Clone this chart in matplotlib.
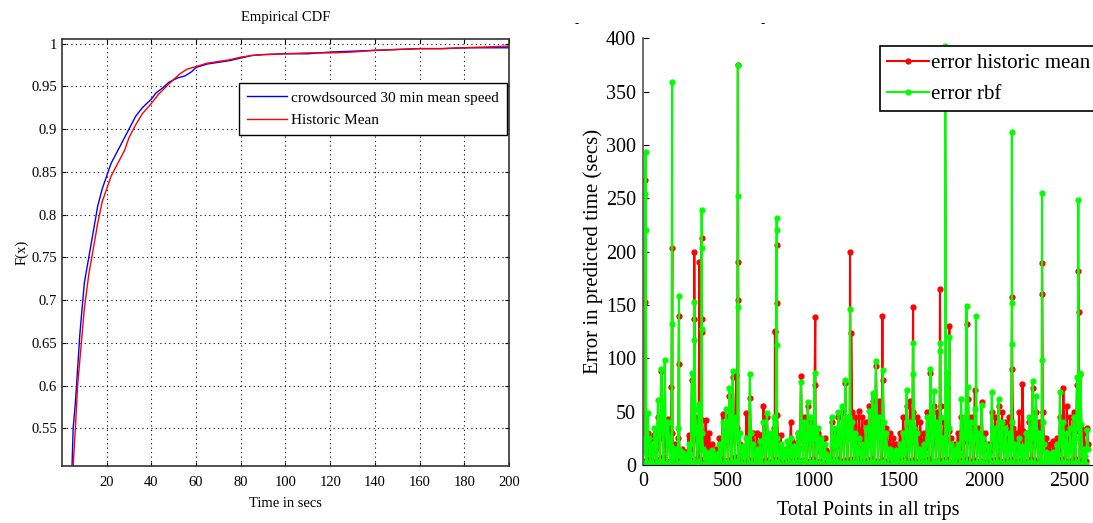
import numpy as np
import matplotlib
matplotlib.use("Agg")
import matplotlib.pyplot as plt

plt.rcParams["font.family"] = ["Liberation Serif", "DejaVu Serif"]

# ---- left panel: empirical CDF of travel-time error (secs)
crowd_t = [4.5, 5, 6, 7, 8, 9, 10, 12, 14, 16, 18, 20, 22, 25, 28, 30, 33, 36,
           40, 42, 45, 48, 52, 55, 58, 60, 65, 70, 75, 80, 85, 90, 100, 110,
           120, 130, 140, 150, 160, 170, 180, 190, 200]
crowd_f = [0.506, 0.55, 0.58, 0.62, 0.66, 0.69, 0.72, 0.75, 0.78, 0.81, 0.83,
           0.845, 0.86, 0.875, 0.89, 0.90, 0.915, 0.925, 0.935, 0.942, 0.948,
           0.955, 0.96, 0.962, 0.967, 0.972, 0.976, 0.978, 0.98, 0.983, 0.986,
           0.987, 0.988, 0.988, 0.99, 0.991, 0.992, 0.993, 0.994, 0.994, 0.995,
           0.995, 0.995]
hist_t = [5, 6, 7, 8, 9, 10, 11, 12, 14, 16, 18, 20, 22, 25, 28, 30, 33, 36,
          40, 43, 46, 50, 53, 56, 60, 65, 70, 75, 80, 85, 90, 100, 110, 120,
          130, 140, 150, 160, 170, 180, 190, 200]
hist_f = [0.506, 0.55, 0.6, 0.63, 0.66, 0.69, 0.71, 0.73, 0.76, 0.79, 0.815,
          0.83, 0.845, 0.86, 0.875, 0.89, 0.905, 0.918, 0.93, 0.94, 0.948,
          0.958, 0.965, 0.97, 0.973, 0.977, 0.979, 0.981, 0.984, 0.986, 0.987,
          0.988, 0.989, 0.989, 0.99, 0.992, 0.993, 0.994, 0.994, 0.995, 0.996,
          0.997]

# ---- right panel: per-point error, read per 20-point bin
# (bin max, a typical second level, bin min)
rbf_hi = [25, 49, 20, 35, 61, 90, 98, 40, 18, 15,
          35, 12, 10, 20, 86, 52, 57, 30, 12, 10,
          14, 10, 20, 40, 52, 72, 88, 45, 30, 18,
          25, 85, 20, 15, 22, 40, 49, 30, 45, 25,
          20, 15, 22, 25, 18, 30, 78, 40, 59, 45,
          86, 35, 25, 20, 8, 45, 35, 50, 55, 80,
          45, 40, 30, 25, 20, 35, 51, 67, 97, 45,
          89, 30, 15, 12, 14, 20, 30, 70, 40, 85,
          30, 15, 20, 45, 90, 69, 40, 45, 25, 86,
          20, 15, 20, 62, 45, 73, 40, 52, 30, 56,
          20, 18, 68, 35, 62, 40, 35, 30, 40, 20,
          25, 18, 30, 45, 79, 65, 30, 40, 12, 10,
          12, 20, 68, 40, 30, 35, 45, 82, 86, 15,
          33]
rbf_mid = [12, 25, 10, 18, 35, 45, 40, 25, 10, 8,
           15, 7, 6, 10, 40, 30, 28, 15, 7, 6,
           8, 6, 12, 25, 30, 35, 40, 25, 15, 10,
           12, 30, 10, 8, 12, 22, 25, 15, 22, 12,
           10, 8, 12, 12, 10, 15, 35, 25, 30, 25,
           35, 20, 12, 10, 5, 25, 20, 28, 30, 35,
           25, 22, 15, 12, 10, 18, 25, 30, 40, 25,
           40, 15, 8, 7, 8, 10, 15, 30, 22, 35,
           15, 8, 10, 25, 40, 35, 22, 25, 12, 35,
           10, 8, 10, 30, 25, 35, 22, 25, 15, 25,
           10, 9, 30, 18, 30, 22, 18, 15, 20, 10,
           12, 9, 15, 25, 35, 30, 15, 20, 7, 6,
           7, 10, 30, 22, 15, 18, 25, 35, 38, 8,
           15]
rbf_lo = [2, 1, 3, 0, 2, 4, 1, 2, 3, 1,
          1, 2, 0, 1, 3, 2, 4, 1, 0, 2,
          1, 0, 2, 1, 3, 2, 1, 4, 2, 1,
          0, 2, 1, 1, 3, 0, 2, 1, 2, 3,
          1, 0, 1, 2, 1, 3, 2, 4, 1, 2,
          3, 1, 2, 0, 1, 2, 4, 3, 1, 2,
          2, 1, 3, 2, 1, 0, 2, 3, 1, 2,
          3, 1, 0, 1, 2, 1, 3, 2, 1, 2,
          1, 0, 2, 3, 1, 2, 4, 1, 2, 3,
          1, 2, 0, 1, 3, 2, 1, 2, 0, 3,
          1, 0, 2, 1, 3, 2, 1, 2, 3, 1,
          2, 1, 0, 2, 3, 1, 2, 4, 1, 0,
          1, 2, 1, 3, 2, 1, 2, 3, 1, 2,
          1]
hist_hi = [45, 30, 25, 28, 45, 88, 40, 43, 73, 20,
           25, 15, 12, 28, 80, 45, 40, 42, 42, 30,
           20, 15, 25, 48, 46, 65, 82, 84, 20, 15,
           49, 63, 30, 30, 28, 55, 45, 25, 35, 47,
           28, 12, 15, 40, 20, 30, 83, 45, 55, 40,
           75, 30, 25, 25, 10, 40, 30, 45, 50, 77,
           45, 50, 45, 51, 45, 40, 55, 60, 93, 60,
           80, 35, 30, 25, 20, 30, 45, 55, 60, 50,
           45, 40, 30, 50, 86, 55, 50, 55, 40, 73,
           25, 20, 30, 45, 40, 62, 45, 70, 35, 59,
           30, 20, 50, 45, 55, 50, 40, 45, 90, 30,
           50, 76, 30, 40, 72, 50, 40, 50, 25, 20,
           22, 25, 45, 72, 55, 45, 50, 75, 85, 30,
           35]
hist_mid = [20, 15, 14, 15, 25, 40, 22, 25, 30, 12,
            14, 10, 8, 15, 35, 25, 22, 25, 25, 18,
            12, 10, 15, 25, 25, 30, 35, 35, 12, 10,
            25, 30, 18, 18, 16, 30, 25, 15, 20, 25,
            15, 8, 10, 22, 12, 16, 35, 25, 28, 22,
            32, 18, 14, 14, 7, 22, 18, 25, 28, 35,
            25, 28, 25, 30, 25, 22, 28, 30, 40, 30,
            35, 20, 18, 15, 12, 16, 25, 28, 30, 25,
            25, 22, 16, 25, 40, 28, 25, 28, 22, 32,
            14, 12, 16, 25, 22, 30, 25, 32, 20, 28,
            16, 12, 25, 25, 28, 25, 22, 25, 35, 16,
            25, 32, 16, 22, 32, 25, 22, 25, 14, 12,
            12, 14, 25, 32, 28, 25, 25, 32, 35, 16,
            20]
hist_lo = [4, 2, 6, 3, 5, 2, 7, 3, 4, 5,
           3, 6, 2, 4, 5, 3, 7, 4, 6, 3,
           5, 2, 4, 6, 3, 5, 4, 7, 3, 2,
           4, 5, 3, 6, 2, 4, 5, 3, 4, 6,
           3, 2, 5, 4, 3, 6, 4, 5, 3, 4,
           6, 3, 4, 2, 3, 5, 4, 6, 3, 5,
           4, 6, 5, 7, 4, 3, 5, 6, 4, 3,
           5, 4, 2, 3, 4, 5, 3, 6, 4, 5,
           3, 4, 2, 5, 6, 4, 3, 5, 4, 6,
           2, 3, 4, 5, 3, 6, 4, 5, 3, 4,
           3, 2, 5, 4, 6, 3, 4, 5, 6, 3,
           4, 5, 3, 4, 6, 5, 3, 4, 2, 3,
           4, 3, 5, 6, 4, 3, 5, 6, 4, 5,
           4]

# isolated large errors: point index and value
rbf_spike_idx = [14, 15, 16, 171, 172, 211, 301, 302, 344, 345, 346, 557, 558,
                 559, 784, 785, 786, 1215, 1586, 1744, 1745, 1774, 1798, 1899,
                 1954, 2164, 2165, 2166, 2342, 2343, 2555, 2556]
rbf_spike_val = [254, 293, 220, 359, 132, 158, 153, 117, 239, 203, 127, 375,
                 252, 148, 231, 220, 112, 146, 114, 114, 107, 393, 120, 149,
                 140, 113, 312, 152, 255, 98, 248, 82]
hist_spike_idx = [11, 12, 172, 211, 212, 301, 302, 331, 344, 345, 346, 557,
                  558, 559, 774, 775, 785, 786, 1011, 1215, 1222, 1405, 1585,
                  1743, 1798, 1899, 2166, 2342, 2343, 2555, 2556]
hist_spike_val = [267, 153, 203, 140, 95, 200, 137, 190, 213, 137, 125, 375,
                  190, 155, 126, 125, 206, 152, 139, 200, 124, 140, 148, 165,
                  130, 132, 157, 189, 160, 182, 143]


def series(lo, hi, mid, sp_idx, sp_val):
    k = np.arange(len(lo)) * 20
    x = np.concatenate([sp_idx, k, k + 7, k + 13]).astype(float)
    y = np.concatenate([sp_val, lo, hi, mid]).astype(float)
    order = np.argsort(x, kind="stable")
    return x[order], y[order]


fig = plt.figure(figsize=(10.93, 5.23), dpi=100)

# left: CDF
ax1 = fig.add_axes([0.0567, 0.109, 0.409, 0.816])
ax1.plot(crowd_t, crowd_f, color="#0000ff", lw=1.0,
         label="crowdsourced 30 min mean speed")
ax1.plot(hist_t, hist_f, color="#ff0000", lw=1.0, label="Historic Mean")
ax1.set_xlim(0, 200)
ax1.set_ylim(0.506, 1.005)
ax1.set_xticks(range(20, 201, 20))
yt = [0.55, 0.6, 0.65, 0.7, 0.75, 0.8, 0.85, 0.9, 0.95, 1.0]
ax1.set_yticks(yt)
ax1.set_yticklabels(["0.55", "0.6", "0.65", "0.7", "0.75", "0.8", "0.85",
                     "0.9", "0.95", "1"])
ax1.grid(True, linestyle=(0, (1, 3)), color="black", lw=0.8)
ax1.tick_params(direction="in", top=True, right=True, labelsize=10.5,
                length=3)
ax1.tick_params(axis="x", pad=7)
ax1.set_title("Empirical CDF", fontsize=10.5, pad=13)
ax1.set_xlabel("Time in secs", fontsize=10.5, labelpad=6)
ax1.set_ylabel("F(x)", fontsize=10.5, labelpad=2)
for s in ax1.spines.values():
    s.set_color("#333333")
    s.set_linewidth(1.2)
leg1 = ax1.legend(loc="upper right", bbox_to_anchor=(0.995, 0.897),
                  borderaxespad=0, fontsize=11, fancybox=False,
                  edgecolor="black", handlelength=2.6, borderpad=0.5,
                  labelspacing=0.6, handletextpad=0.3, framealpha=1)
leg1.get_frame().set_linewidth(1.0)

# right: point errors
ax2 = fig.add_axes([0.5883, 0.111, 0.4117, 0.816])
hx, hy = series(hist_lo, hist_hi, hist_mid, hist_spike_idx, hist_spike_val)
rx, ry = series(rbf_lo, rbf_hi, rbf_mid, rbf_spike_idx, rbf_spike_val)
ax2.plot(hx, hy, color="#ff0000", lw=1.5, marker=".", ms=7,
         label="error historic mean")
ax2.plot(rx, ry, color="#00ff00", lw=1.5, marker=".", ms=7,
         label="error rbf")
ax2.set_xlim(0, 2641)
ax2.set_ylim(0, 400)
ax2.set_xticks(range(0, 2501, 500))
ax2.set_yticks(range(0, 401, 50))
ax2.tick_params(direction="in", labelsize=14.5, length=4, pad=5)
ax2.spines["top"].set_visible(False)
ax2.spines["right"].set_visible(False)
ax2.spines["left"].set_color("#555555")
ax2.spines["left"].set_linewidth(1.2)
ax2.set_xlabel("Total Points in all trips", fontsize=14.5, labelpad=7)
ax2.set_ylabel("Error in predicted time (secs)", fontsize=15, labelpad=2)
leg2 = ax2.legend(loc="upper left", fontsize=15, fancybox=False,
                  edgecolor="black", handlelength=2.0, handletextpad=0.1,
                  borderpad=0.35, labelspacing=0.55, borderaxespad=0,
                  framealpha=1)
leg2.get_frame().set_linewidth(1.2)
leg2.set_bbox_to_anchor((880 / 1093, 1 - 46 / 523), transform=fig.transFigure)

fig.text(577 / 1093, 1 - 24 / 523, "-", fontsize=9, ha="center", va="center")
fig.text(763 / 1093, 1 - 24 / 523, "-", fontsize=9, ha="center", va="center")

fig.savefig("out.png", dpi=100)
